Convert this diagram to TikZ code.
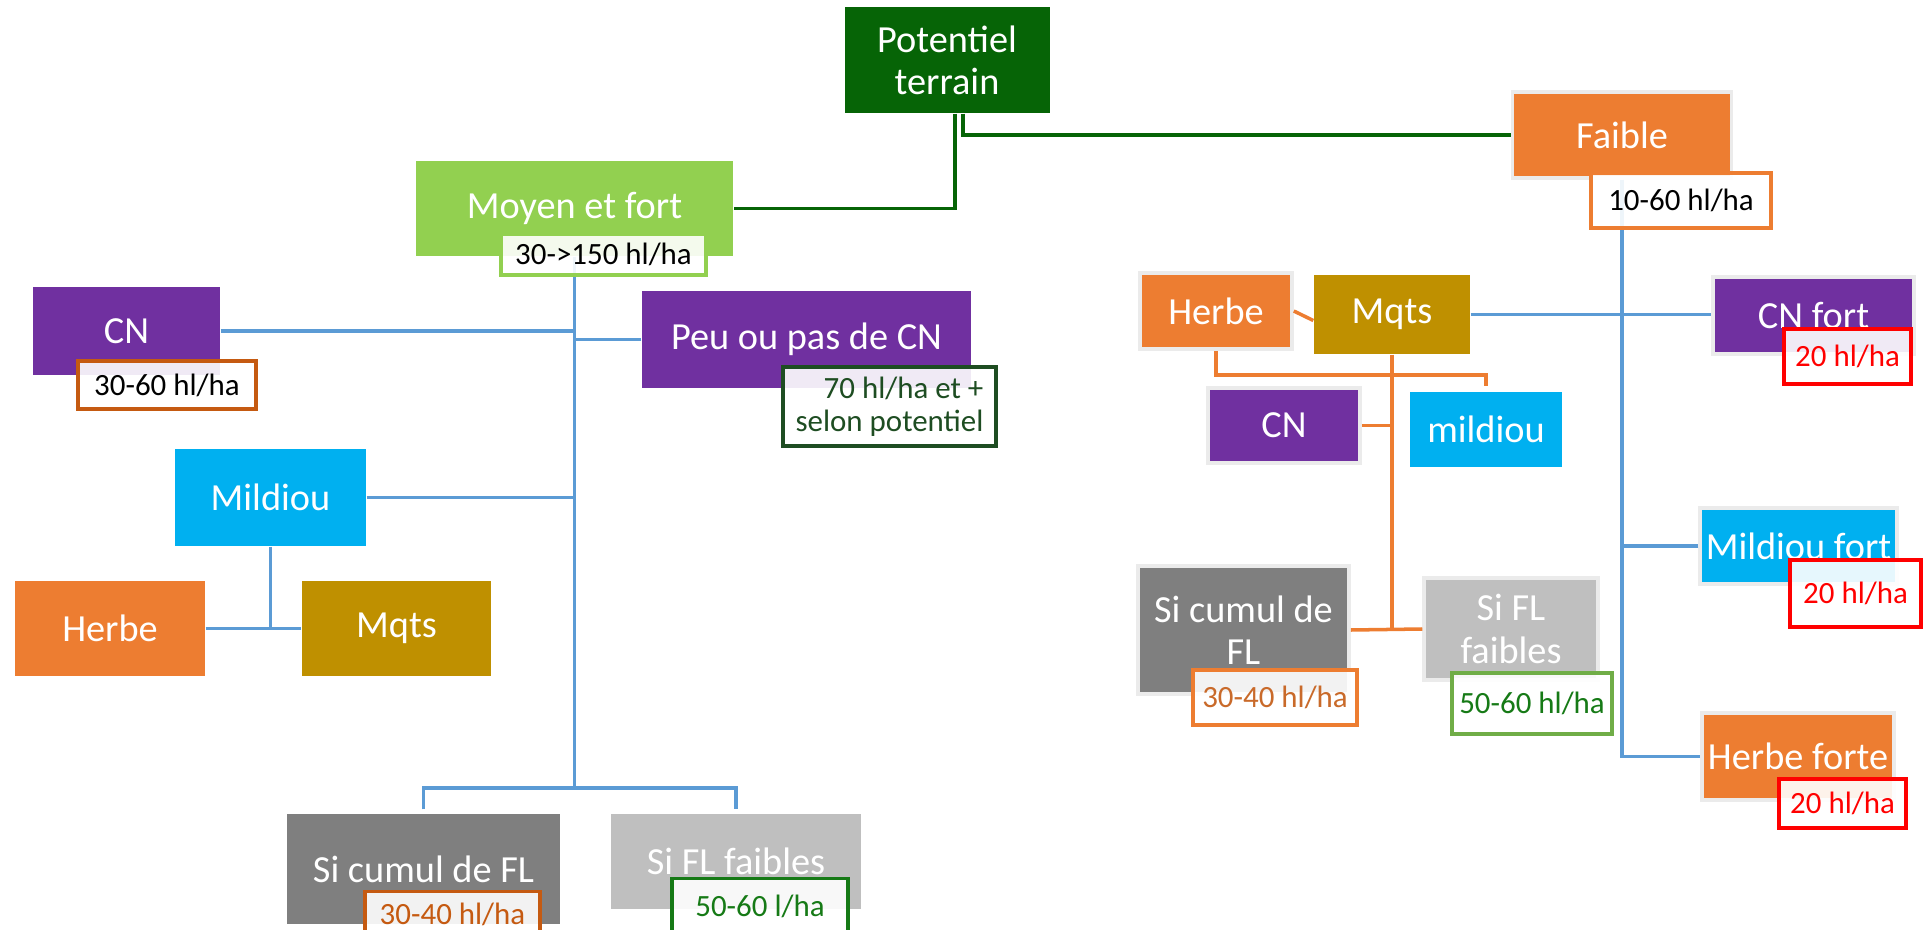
\documentclass[tikz,border=0pt]{standalone}
\usepackage{fontspec}
\setmainfont{Carlito}
\definecolor{potgreen}{HTML}{066406}
\definecolor{lightgreen}{HTML}{92D050}
\definecolor{boxorange}{HTML}{ED7D31}
\definecolor{boxpurple}{HTML}{7030A0}
\definecolor{boxcyan}{HTML}{00B0F0}
\definecolor{boxgold}{HTML}{BF9000}
\definecolor{darkgrey}{HTML}{7F7F7F}
\definecolor{lightgrey}{HTML}{BFBFBF}
\definecolor{lineblue}{HTML}{5B9BD5}
\definecolor{brown}{HTML}{C55A11}
\definecolor{deepgreen}{HTML}{1E4D22}
\definecolor{midgreen}{HTML}{167A16}
\definecolor{softgreen}{HTML}{70AD47}
\newcommand\boxfont{\fontsize{10.9}{12}\selectfont}
\newcommand\lblfont{\fontsize{8.8}{9.4}\selectfont}
\tikzset{
  box/.style={rectangle, inner sep=0pt, text=white, font=\boxfont, align=center},
  glow/.style={draw=black!8, line width=1pt},
  lbl/.style={rectangle, draw, line width=.9pt, fill=white, fill opacity=.9, text opacity=1, inner sep=1pt, font=\lblfont, align=center},
  potline/.style={draw=potgreen, line width=1pt},
  treeline/.style={draw=lineblue, line width=1pt},
  subline/.style={draw=boxorange, line width=1pt}
}
\begin{document}
\begin{tikzpicture}
\useasboundingbox (0,0) rectangle (19.26,-9.30);
% top of the tree
\node[box, fill=potgreen, minimum width=2.05cm, minimum height=1.06cm] (pot) at (9.47,-.60) {Potentiel\\terrain};
\node[box, fill=lightgreen, minimum width=3.17cm, minimum height=.95cm] (moyen) at (5.745,-2.085) {Moyen et fort};
\node[box, glow, fill=boxorange, minimum width=2.19cm, minimum height=.86cm] (faible) at (16.22,-1.35) {Faible};
% left branch
\node[box, fill=boxpurple, minimum width=1.87cm, minimum height=.88cm] (cnL) at (1.265,-3.31) {CN};
\node[box, fill=boxpurple, minimum width=3.29cm, minimum height=.97cm] (peu) at (8.065,-3.395) {Peu ou pas de CN};
\node[box, fill=boxcyan, minimum width=1.91cm, minimum height=.97cm] (mildL) at (2.705,-4.975) {Mildiou};
\node[box, fill=boxorange, minimum width=1.90cm, minimum height=.95cm] (herbeL) at (1.10,-6.285) {Herbe};
\node[box, fill=boxgold, minimum width=1.89cm, minimum height=.95cm] (mqtsL) at (3.965,-6.285) {Mqts};
\node[box, fill=darkgrey, minimum width=2.73cm, minimum height=1.10cm] (cumulL) at (4.235,-8.69) {Si cumul de FL};
\node[box, fill=lightgrey, minimum width=2.50cm, minimum height=.95cm] (faiblesL) at (7.36,-8.615) {Si FL faibles};
% right branch
\node[box, glow, fill=boxorange, minimum width=1.52cm, minimum height=.76cm] (herbeR) at (12.16,-3.11) {Herbe};
\node[box, fill=boxgold, minimum width=1.56cm, minimum height=.79cm] (mqtsR) at (13.92,-3.145) {Mqts};
\node[box, glow, fill=boxpurple, minimum width=1.52cm, minimum height=.75cm] (cnR) at (12.84,-4.255) {CN};
\node[box, fill=boxcyan, minimum width=1.52cm, minimum height=.75cm] (mildR) at (14.86,-4.295) {mildiou};
\node[box, glow, fill=darkgrey, minimum width=2.11cm, minimum height=1.28cm] (cumulR) at (12.435,-6.30) {Si cumul de\\FL};
\node[box, glow, fill=lightgrey, minimum width=1.74cm, minimum height=1.02cm] (faiblesR) at (15.11,-6.29) {Si FL\\faibles};
\node[box, glow, fill=boxpurple, minimum width=2.01cm, minimum height=.77cm] (cnfort) at (18.135,-3.155) {CN fort};
\node[box, glow, fill=boxcyan, minimum width=1.97cm, minimum height=.76cm] (mildfort) at (17.985,-5.46) {Mildiou fort};
\node[box, glow, fill=boxorange, minimum width=1.92cm, minimum height=.87cm] (herbefort) at (17.98,-7.565) {Herbe forte};
% connectors
\draw[potline] ([xshift=.08cm]pot.south) |- (moyen.east);
\draw[potline] ([xshift=.16cm]pot.south) |- (faible.west);
\coordinate (jL) at (5.745,-7.88);
\draw[treeline] (moyen.south) -- (jL);
\draw[treeline] ([yshift=.04cm]cumulL.north) |- (jL) -| ([yshift=.04cm]faiblesL.north);
\draw[treeline] (cnL.east) -- (cnL.east -| jL);
\draw[treeline] (peu.west) -- (peu.west -| jL);
\draw[treeline] (mildL.east) -- (mildL.east -| jL);
\draw[treeline] (mildL.south) -- (mildL.south |- herbeL.east);
\draw[treeline] (herbeL.east) -- (mqtsL.west);
\draw[treeline] (faible.south) |- (herbefort.west);
\draw[treeline] (mqtsR.east) -- (mqtsR.east -| cnfort.west);
\draw[treeline] (mildfort.west) -- (mildfort.west -| faible.south);
\draw[subline] (mqtsR.south) -- (mqtsR.south |- cumulR.east);
\draw[subline] (cumulR.east) -- (faiblesR.west);
\draw[subline] (cnR.east) -- (cnR.east -| mqtsR.south);
\draw[subline] (herbeR.south) -- ++(0,-.24) -| ([yshift=.05cm]mildR.north);
\draw[subline] (herbeR.east) -- ([yshift=-.06cm]mqtsR.west);
% yield labels
\node[lbl, draw=lightgreen, minimum width=2.05cm, minimum height=.41cm] (moyenlbl) at (6.035,-2.545) {30->150 hl/ha};
\node[lbl, draw=boxorange, minimum width=1.80cm, minimum height=.55cm] (faiblelbl) at (16.81,-2.005) {10-60 hl/ha};
\node[lbl, draw=brown, minimum width=1.78cm, minimum height=.48cm] (cnLlbl) at (1.67,-3.85) {30-60 hl/ha};
\node[lbl, draw=deepgreen, text=deepgreen, minimum width=2.13cm, minimum height=.79cm, align=right] (peulbl) at (8.895,-4.065) {70 hl/ha et +\\selon potentiel};
\node[lbl, draw=brown, text=brown, minimum width=1.75cm, minimum height=.45cm] (cumulLlbl) at (4.525,-9.14) {30-40 hl/ha};
\node[lbl, draw=midgreen, text=midgreen, minimum width=1.76cm, minimum height=.55cm] (faiblesLlbl) at (7.60,-9.06) {50-60 l/ha};
\node[lbl, draw=boxorange, text=boxorange!85!black, minimum width=1.64cm, minimum height=.55cm] (cumulRlbl) at (12.75,-6.975) {30-40 hl/ha};
\node[lbl, draw=softgreen, text=midgreen, minimum width=1.60cm, minimum height=.61cm] (faiblesRlbl) at (15.32,-7.035) {50-60 hl/ha};
\node[lbl, draw=red, text=red, minimum width=1.27cm, minimum height=.55cm] (cnfortlbl) at (18.475,-3.565) {20 hl/ha};
\node[lbl, draw=red, text=red, minimum width=1.31cm, minimum height=.67cm] (mildfortlbl) at (18.555,-5.935) {20 hl/ha};
\node[lbl, draw=red, text=red, minimum width=1.27cm, minimum height=.49cm] (herbefortlbl) at (18.425,-8.035) {20 hl/ha};
\end{tikzpicture}
\end{document}
